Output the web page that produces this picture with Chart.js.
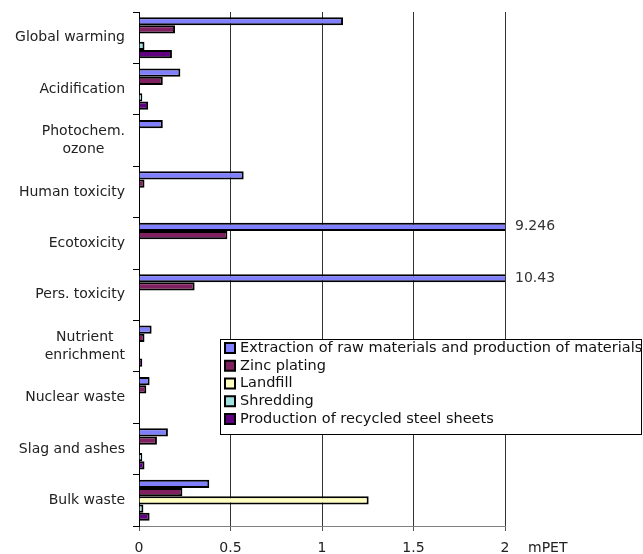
<!DOCTYPE html>
<html>
<head>
<meta charset="utf-8">
<script src="https://cdn.jsdelivr.net/npm/chart.js@4/dist/chart.umd.min.js"></script>
<style>
  html, body { margin: 0; padding: 0; background: #fff; }
  #wrap { width: 643px; height: 554px; position: relative; }
</style>
</head>
<body>
<div id="wrap"><canvas id="chart"></canvas></div>
<script>
// categories (impact types)
const categories = [
  "Global warming", "Acidification", ["Photochem.", "ozone"], "Human toxicity",
  "Ecotoxicity", "Pers. toxicity", ["Nutrient", "enrichment"], "Nuclear waste",
  "Slag and ashes", "Bulk waste"
];

// series values in mPET
const extraction = [1.115, 0.226, 0.13, 0.572, 9.246, 10.43, 0.069, 0.058, 0.158, 0.384];
const zincPlating = [0.197, 0.13, 0, 0.03, 0.483, 0.304, 0.03, 0.04, 0.098, 0.237];
const landfill = [0, 0, 0, 0, 0, 0, 0, 0, 0, 1.255];
const shredding = [0.03, 0.018, 0, 0, 0, 0, 0, 0, 0.018, 0.024];
const recycledSheets = [0.18, 0.05, 0, 0, 0, 0, 0.018, 0, 0.03, 0.058];

const seriesNames = [
  "Extraction of raw materials and production of materials",
  "Zinc plating",
  "Landfill",
  "Shredding",
  "Production of recycled steel sheets"
];
const xTicks = [0, 0.5, 1, 1.5, 2];
const unitLabel = "mPET";

const FONT = "DejaVu Sans";
Chart.defaults.font.family = FONT;
Chart.defaults.font.size = 14;
Chart.defaults.color = '#222';

const colors = ['#8080ff', '#802060', '#ffffc0', '#a0e0e0', '#600080'];
const seriesData = [extraction, zincPlating, landfill, shredding, recycledSheets];

// category labels: block right-aligned to the axis, lines centred inside the block
const yLabelPlugin = {
  id: 'yLabels',
  afterDraw(chart) {
    const { ctx, scales } = chart;
    const y = scales.y;
    const right = chart.chartArea.left - 14;
    const lh = 18;
    ctx.save();
    ctx.font = `14px "${FONT}"`;
    ctx.fillStyle = '#222';
    ctx.textBaseline = 'middle';
    ctx.textAlign = 'center';
    categories.forEach((lab, i) => {
      const lines = Array.isArray(lab) ? lab : [lab];
      const w = Math.max(...lines.map(l => ctx.measureText(l).width));
      const cx = right - w / 2;
      const cy = y.getPixelForValue(i);
      lines.forEach((l, j) => {
        ctx.fillText(l, cx, cy + (j - (lines.length - 1) / 2) * lh);
      });
    });
    ctx.restore();
  }
};

// draws the clipped-bar values, the unit label and the boxed legend
const extrasPlugin = {
  id: 'extras',
  afterDatasetsDraw(chart) {
    const { ctx, chartArea, scales } = chart;
    const meta = chart.getDatasetMeta(0);
    ctx.save();
    ctx.font = `14px "${FONT}"`;
    ctx.fillStyle = '#333';
    ctx.textBaseline = 'middle';
    ctx.textAlign = 'left';
    extraction.forEach((v, i) => {
      if (v > scales.x.max) {
        ctx.fillText(String(v), chartArea.right + 10, meta.data[i].y);
      }
    });
    ctx.fillStyle = '#222';
    ctx.fillText(unitLabel, chartArea.right + 23, 548);
    ctx.restore();
  },
  afterDraw(chart) {
    const { ctx } = chart;
    const box = { x: 220.5, y: 339.5, w: 421, h: 95 };
    ctx.save();
    ctx.fillStyle = '#fff';
    ctx.fillRect(box.x, box.y, box.w, box.h);
    ctx.strokeStyle = '#000';
    ctx.lineWidth = 1;
    ctx.strokeRect(box.x, box.y, box.w, box.h);
    ctx.font = `14.5px "${FONT}"`;
    ctx.textBaseline = 'middle';
    ctx.textAlign = 'left';
    chart.data.datasets.forEach((ds, i) => {
      const cy = 348 + i * 17.75;
      ctx.fillStyle = ds.backgroundColor;
      ctx.fillRect(225, cy - 5, 10, 10);
      ctx.lineWidth = 2;
      ctx.strokeRect(225, cy - 5, 10, 10);
      ctx.fillStyle = '#111';
      ctx.fillText(ds.label, 240, cy);
    });
    ctx.restore();
  }
};

new Chart(document.getElementById('chart'), {
  type: 'bar',
  data: {
    labels: categories,
    datasets: seriesData.map((d, i) => ({
      label: seriesNames[i],
      data: d,
      backgroundColor: colors[i],
      borderColor: '#000',
      borderWidth: 2,
      categoryPercentage: 0.8,
      barPercentage: 1.0,
      clip: 0
    }))
  },
  options: {
    indexAxis: 'y',
    responsive: true,
    maintainAspectRatio: false,
    animation: false,
    layout: { padding: { top: 12, right: 138, left: 0, bottom: 0 } },
    plugins: {
      legend: { display: false },
      tooltip: { enabled: false }
    },
    scales: {
      x: {
        min: 0,
        max: 2,
        afterFit: (s) => { s.height = 28; },
        afterBuildTicks: (s) => { s.ticks = xTicks.map(v => ({ value: v })); },
        ticks: { padding: 9, color: '#222', callback: (v) => String(v) },
        grid: { color: '#333', lineWidth: 1, tickLength: 5, tickColor: '#555' },
        border: { color: '#808080', width: 1 }
      },
      y: {
        afterFit: (s) => { s.width = 139; },
        ticks: { display: false },
        grid: { drawOnChartArea: false, drawTicks: true, tickLength: 6, color: '#000', offset: true },
        border: { color: '#000', width: 1 }
      }
    }
  },
  plugins: [yLabelPlugin, extrasPlugin]
});
</script>
</body>
</html>
